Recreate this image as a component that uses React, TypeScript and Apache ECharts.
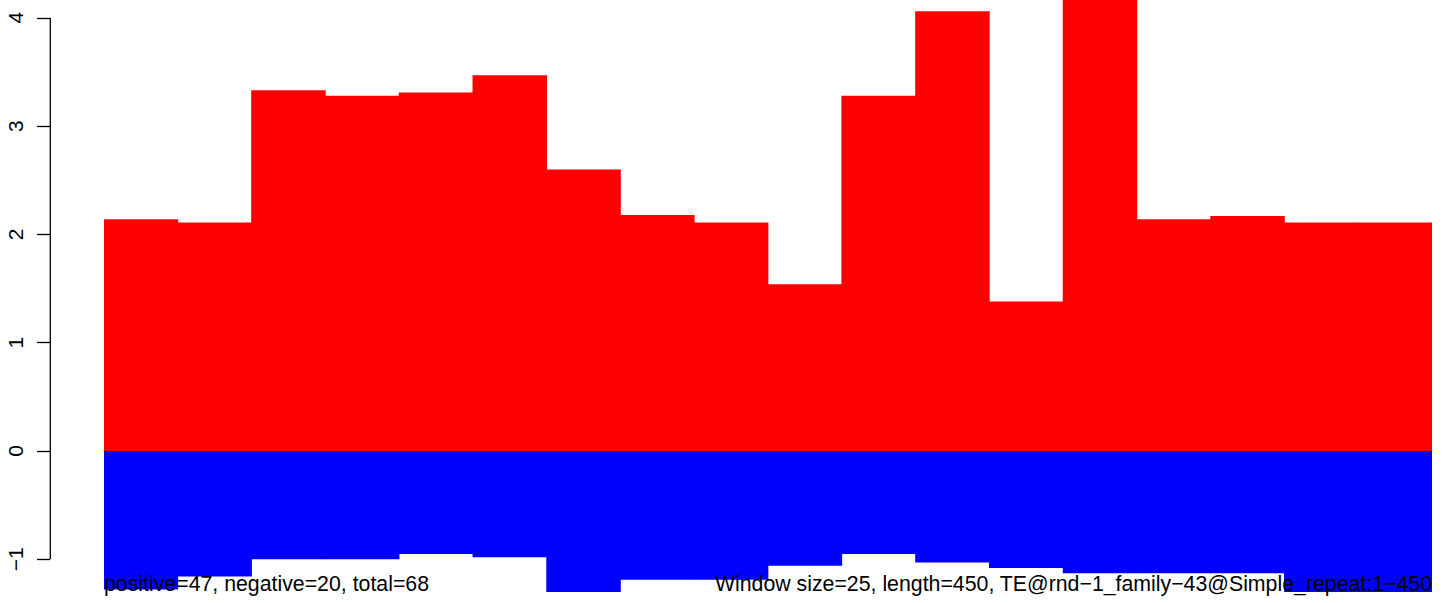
import React, { useEffect, useRef } from "react";
import * as echarts from "echarts";

const categories = [
  "1-25", "26-50", "51-75", "76-100", "101-125", "126-150", "151-175", "176-200", "201-225",
  "226-250", "251-275", "276-300", "301-325", "326-350", "351-375", "376-400", "401-425", "426-450",
];
const positiveValues = [2.14, 2.11, 3.33, 3.28, 3.31, 3.47, 2.6, 2.18, 2.11, 1.54, 3.28, 4.06, 1.38, 4.5, 2.14, 2.17, 2.11, 2.11];
const negativeValues = [-1.28, -1.16, -1.0, -1.0, -0.95, -0.98, -1.35, -1.19, -1.19, -1.06, -0.95, -1.03, -1.08, -1.13, -1.13, -1.13, -1.35, -1.35];
const yTicks = [-1, 0, 1, 2, 3, 4];
const yMin = -1.302;
const yMax = 4.164;
const leftNote = "positive=47, negative=20, total=68";
const rightNote = "Window size=25, length=450, TE@rnd\u22121_family\u221243@Simple_repeat:1\u2212450";

const FONT = '"Liberation Sans", Arial, Helvetica, sans-serif';
const fmt = (v: number) => (v < 0 ? "\u2212" + Math.abs(v) : String(v));

export default function App() {
  const ref = useRef<HTMLDivElement>(null);
  useEffect(() => {
    if (!ref.current) return;
    const chart = echarts.init(ref.current, null, { renderer: "svg" });
    chart.setOption({
      animation: false,
      backgroundColor: "#ffffff",
      grid: { left: 104, right: 12, top: 0, bottom: 11, containLabel: false },
      xAxis: {
        type: "category",
        data: categories,
        show: false,
      },
      yAxis: {
        type: "value",
        min: yMin,
        max: yMax,
        offset: 54,
        splitLine: { show: false },
        axisLine: { show: false },
        axisTick: {
          show: true,
          length: 13,
          customValues: yTicks,
          lineStyle: { color: "#000", width: 1.3 },
        },
        axisLabel: {
          show: true,
          customValues: yTicks,
          rotate: 90,
          margin: 24,
          color: "#000",
          fontSize: 21,
          fontFamily: FONT,
          formatter: (v: number) => fmt(v),
        },
      },
      series: [
        {
          name: "positive",
          type: "bar",
          data: positiveValues,
          barWidth: "101%",
          barGap: "-100%",
          itemStyle: { color: "#ff0000" },
          clip: true,
        },
        {
          name: "negative",
          type: "bar",
          data: negativeValues,
          barWidth: "101%",
          barGap: "-100%",
          itemStyle: { color: "#0000ff" },
          clip: true,
        },
      ],
    });
    const top = chart.convertToPixel({ yAxisIndex: 0 }, yTicks[yTicks.length - 1]) as number;
    const bottom = chart.convertToPixel({ yAxisIndex: 0 }, yTicks[0]) as number;
    chart.setOption({
      graphic: [
        {
          type: "line",
          z: 100,
          shape: { x1: 50.3, y1: top, x2: 50.3, y2: bottom },
          style: { stroke: "#000", lineWidth: 1.3 },
        },
        {
          type: "text",
          z: 100,
          x: 104,
          y: 584,
          style: { text: leftNote, fill: "#000", font: `21.3px ${FONT}`, align: "left", verticalAlign: "middle" },
        },
        {
          type: "text",
          z: 100,
          x: 1432,
          y: 584,
          style: { text: rightNote, fill: "#000", font: `21.3px ${FONT}`, align: "right", verticalAlign: "middle" },
        },
      ],
    });
    return () => chart.dispose();
  }, []);
  return (
    <div
      ref={ref}
      style={{ position: "absolute", left: 0, top: 0, width: 1444, height: 603 }}
    />
  );
}
